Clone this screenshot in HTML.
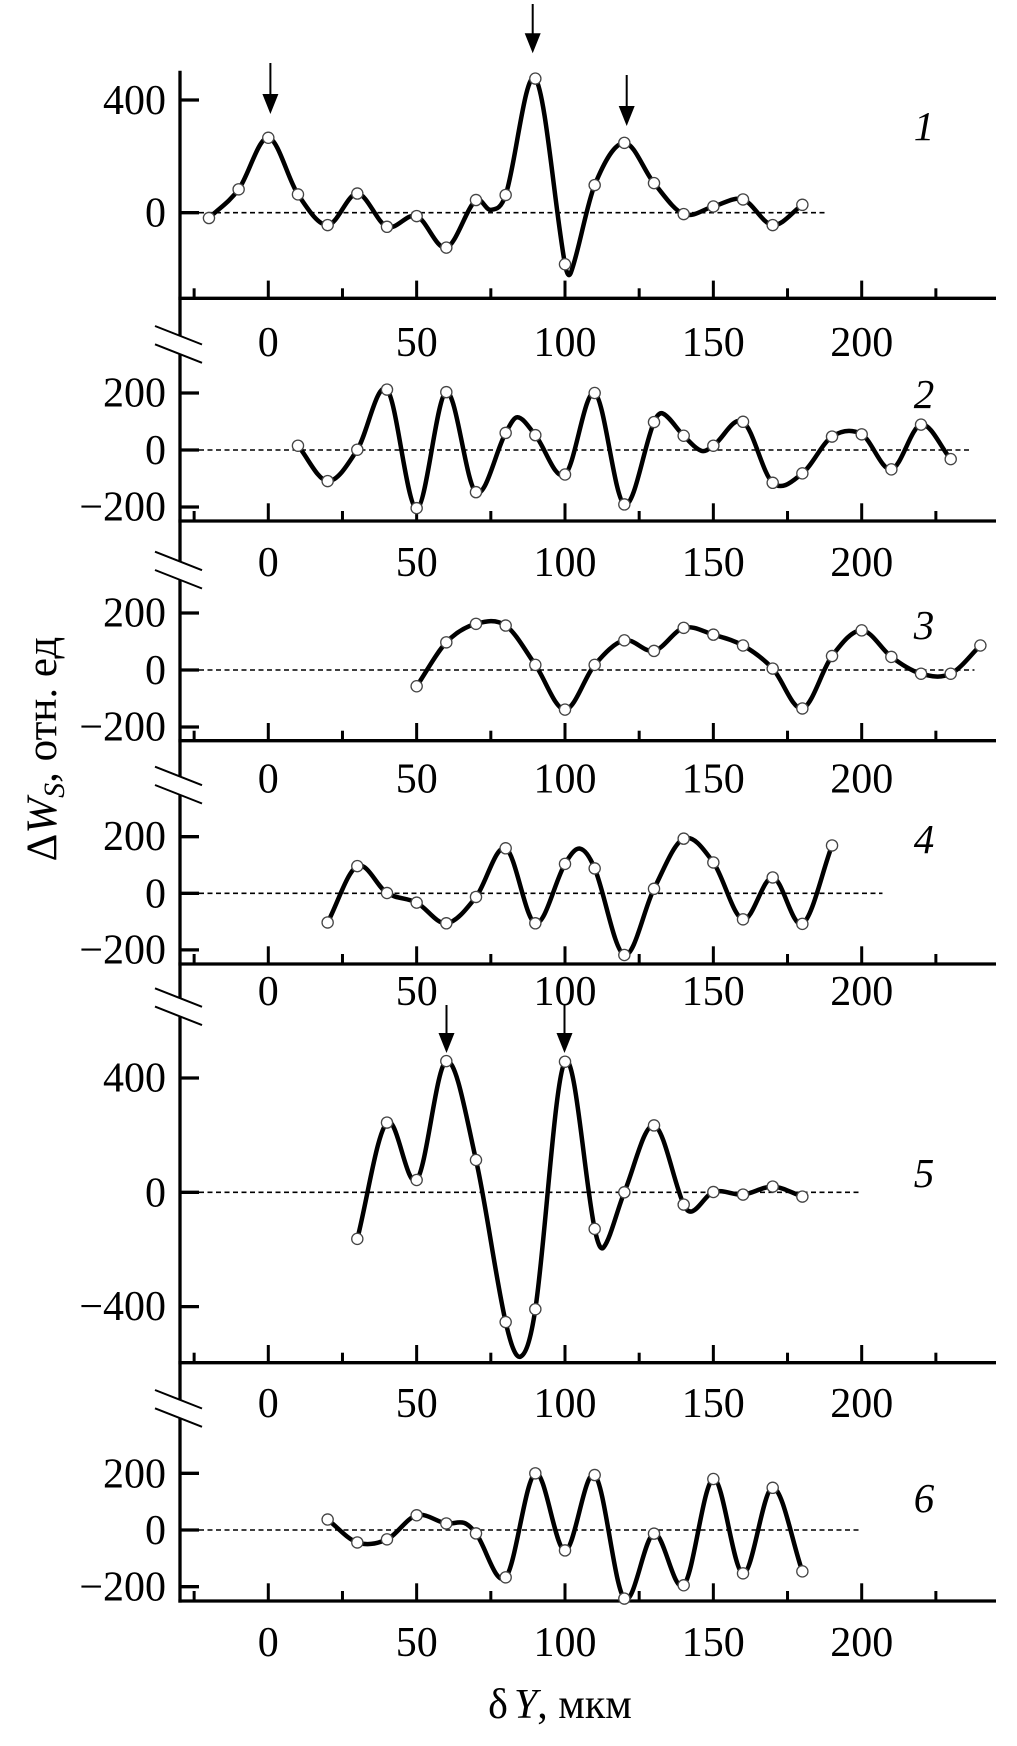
<!DOCTYPE html>
<html>
<head>
<meta charset="utf-8">
<style>
html,body{margin:0;padding:0;background:#fff;}
svg{display:block;}
text{font-family:"Liberation Serif","DejaVu Serif",serif;fill:#000;}
</style>
</head>
<body>
<svg id="c" xmlns="http://www.w3.org/2000/svg" width="1017" height="1746" viewBox="0 0 1017 1746">
<rect width="1017" height="1746" fill="#fff"/>
<g id="g"></g>
<!-- Y tick labels -->
<g font-size="42" text-anchor="end">
<text x="166" y="114">400</text>
<text x="166" y="226.7">0</text>
<text x="166" y="406.7">200</text>
<text x="166" y="464">0</text>
<text x="166" y="520.7">−200</text>
<text x="166" y="626.7">200</text>
<text x="166" y="684">0</text>
<text x="166" y="740.7">−200</text>
<text x="166" y="850">200</text>
<text x="166" y="907.3">0</text>
<text x="166" y="963.3">−200</text>
<text x="166" y="1091.7">400</text>
<text x="166" y="1206.3">0</text>
<text x="166" y="1320">−400</text>
<text x="166" y="1487.3">200</text>
<text x="166" y="1544">0</text>
<text x="166" y="1600.7">−200</text>
</g>
<!-- X tick labels -->
<g font-size="42" text-anchor="middle">
<text x="268.3" y="356">0</text><text x="416.7" y="356">50</text><text x="565" y="356">100</text><text x="713.3" y="356">150</text><text x="861.7" y="356">200</text>
<text x="268.3" y="576">0</text><text x="416.7" y="576">50</text><text x="565" y="576">100</text><text x="713.3" y="576">150</text><text x="861.7" y="576">200</text>
<text x="268.3" y="792.5">0</text><text x="416.7" y="792.5">50</text><text x="565" y="792.5">100</text><text x="713.3" y="792.5">150</text><text x="861.7" y="792.5">200</text>
<text x="268.3" y="1005">0</text><text x="416.7" y="1005">50</text><text x="565" y="1005">100</text><text x="713.3" y="1005">150</text><text x="861.7" y="1005">200</text>
<text x="268.3" y="1417">0</text><text x="416.7" y="1417">50</text><text x="565" y="1417">100</text><text x="713.3" y="1417">150</text><text x="861.7" y="1417">200</text>
<text x="268.3" y="1656">0</text><text x="416.7" y="1656">50</text><text x="565" y="1656">100</text><text x="713.3" y="1656">150</text><text x="861.7" y="1656">200</text>
</g>
<!-- panel labels -->
<g font-size="41" font-style="italic" text-anchor="middle">
<text x="924" y="140">1</text>
<text x="924" y="408">2</text>
<text x="924" y="639">3</text>
<text x="924" y="853">4</text>
<text x="924" y="1187">5</text>
<text x="924" y="1512">6</text>
</g>
<!-- axis titles -->
<text transform="translate(56,749) rotate(-90)" text-anchor="middle" font-size="43">Δ<tspan font-style="italic">W</tspan><tspan font-style="italic" font-size="30" dy="8">S</tspan><tspan dy="-8">, отн. ед</tspan></text>
<text x="560" y="1718" text-anchor="middle" font-size="42">δ<tspan font-style="italic" dx="6">Y</tspan>, мкм</text>
</svg>
<script>
(function(){
var NS="http://www.w3.org/2000/svg";
var g=document.getElementById("g");
function el(n,a){var e=document.createElementNS(NS,n);for(var k in a)e.setAttribute(k,a[k]);g.appendChild(e);return e;}
function X(u){return 268.3+2.967*u;}
var AX=180, XR=996;
var P=[
{y0:212.7,k:0.2817,ax:298.3,yt:[400,0],de:188,
 m:[[-20,-19],[-10,83],[0,266],[10,65],[20,-44],[30,68],[40,-50],[50,-12],[60,-124],[70,45],[80,63],[90,476],[100,-183],[110,98],[120,248],[130,105],[140,-5],[150,22],[160,47],[170,-44],[180,28]],
 e:[[75,10],[102,-212]]},
{y0:450,k:0.285,ax:521,yt:[200,0,-200],de:237,
 m:[[10,15],[20,-109],[30,1],[40,212],[50,-204],[60,203],[70,-148],[80,60],[90,52],[100,-86],[110,200],[120,-191],[130,98],[140,50],[150,15],[160,99],[170,-115],[180,-82],[190,47],[200,55],[210,-68],[220,89],[230,-32]],
 e:[[84,115],[133,128],[146,-3]]},
{y0:670,k:0.285,ax:740.7,yt:[200,0,-200],de:238,
 m:[[50,-57],[60,97],[70,162],[80,156],[90,18],[100,-139],[110,18],[120,104],[130,67],[140,148],[150,124],[160,86],[170,5],[180,-135],[190,49],[200,139],[210,46],[220,-13],[230,-13],[240,86]],
 e:[]},
{y0:893.3,k:0.283,ax:964,yt:[200,0,-200],de:207,
 m:[[20,-103],[30,96],[40,1],[50,-33],[60,-106],[70,-13],[80,159],[90,-106],[100,104],[110,88],[120,-218],[130,16],[140,193],[150,109],[160,-92],[170,56],[180,-108],[190,169]],
 e:[[105,158]]},
{y0:1192.3,k:0.2858,ax:1362.7,yt:[400,0,-400],de:200,
 m:[[30,-163],[40,244],[50,43],[60,459],[70,113],[80,-454],[90,-409],[100,457],[110,-128],[120,0],[130,234],[140,-43],[150,1],[160,-8],[170,20],[180,-15]],
 e:[[85,-575],[113,-193],[143,-66]]},
{y0:1530,k:0.2834,ax:1601,yt:[200,0,-200],de:200,
 m:[[20,37],[30,-44],[40,-33],[50,52],[60,23],[70,-12],[80,-167],[90,200],[100,-72],[110,194],[120,-242],[130,-13],[140,-195],[150,180],[160,-153],[170,149],[180,-146]],
 e:[[66,25]]}
];
// y axis with breaks
var br=[326,551.7,766.7,988.3,1390];
var segs=[];var top=70.7;
br.forEach(function(b){segs.push([top,b+9.8]);top=b+18.3+9.8;});
segs.push([top,1602.6]);
segs.forEach(function(s){el("line",{x1:AX,y1:s[0],x2:AX,y2:s[1],stroke:"#000","stroke-width":3.3});});
br.forEach(function(b){
 el("line",{x1:155,y1:b,x2:202,y2:b+18.5,stroke:"#000","stroke-width":2});
 el("line",{x1:155,y1:b+18.3,x2:202,y2:b+36.8,stroke:"#000","stroke-width":2});
});
P.forEach(function(p){
 var Y=function(v){return p.y0-p.k*v;};
 el("line",{x1:AX-1.6,y1:p.ax,x2:XR,y2:p.ax,stroke:"#000","stroke-width":3.3});
 [0,50,100,150,200].forEach(function(u){el("line",{x1:X(u),y1:p.ax,x2:X(u),y2:p.ax-17.7,stroke:"#000","stroke-width":3});});
 [-25,25,75,125,175,225].forEach(function(u){el("line",{x1:X(u),y1:p.ax,x2:X(u),y2:p.ax-10,stroke:"#000","stroke-width":3});});
 p.yt.forEach(function(v){el("line",{x1:AX,y1:Y(v),x2:AX+19,y2:Y(v),stroke:"#000","stroke-width":3.3});});
 el("line",{x1:AX+19,y1:p.y0,x2:X(p.de),y2:p.y0,stroke:"#000","stroke-width":1.6,"stroke-dasharray":"5 3.5"});
 var kn=p.m.concat(p.e).map(function(a){return [X(a[0]),Y(a[1])];});
 kn.sort(function(a,b){return a[0]-b[0];});
 var n=kn.length,mm=[];
 for(var i=0;i<n;i++){
  if(i==0)mm.push((kn[1][1]-kn[0][1])/(kn[1][0]-kn[0][0]));
  else if(i==n-1)mm.push((kn[n-1][1]-kn[n-2][1])/(kn[n-1][0]-kn[n-2][0]));
  else mm.push((kn[i+1][1]-kn[i-1][1])/(kn[i+1][0]-kn[i-1][0]));
 }
 var d="M"+kn[0][0].toFixed(2)+","+kn[0][1].toFixed(2);
 for(var i=0;i<n-1;i++){
  var dx=(kn[i+1][0]-kn[i][0])/3;
  d+=" C"+(kn[i][0]+dx).toFixed(2)+","+(kn[i][1]+mm[i]*dx).toFixed(2)+" "+(kn[i+1][0]-dx).toFixed(2)+","+(kn[i+1][1]-mm[i+1]*dx).toFixed(2)+" "+kn[i+1][0].toFixed(2)+","+kn[i+1][1].toFixed(2);
 }
 el("path",{d:d,fill:"none",stroke:"#000","stroke-width":4.5,"stroke-linejoin":"round","stroke-linecap":"round"});
 p.m.forEach(function(a){el("circle",{cx:X(a[0]),cy:Y(a[1]),r:5.6,fill:"#fff",stroke:"#444","stroke-width":1.3});});
});
[[270.4,63,114],[532.7,4,53.3],[626.7,75,126],[446.5,1005,1053],[564.5,1005,1053]].forEach(function(a){
 el("line",{x1:a[0],y1:a[1],x2:a[0],y2:a[2]-14,stroke:"#000","stroke-width":2});
 el("polygon",{points:(a[0]-8)+","+(a[2]-20)+" "+(a[0]+8)+","+(a[2]-20)+" "+a[0]+","+a[2],fill:"#000"});
});
})();
</script>
</body>
</html>
